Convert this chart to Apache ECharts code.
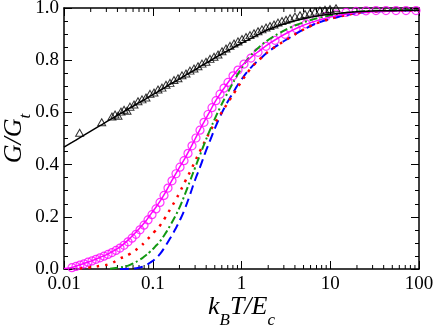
<!DOCTYPE html>
<html>
<head>
<meta charset="utf-8">
<script src="https://cdn.jsdelivr.net/npm/echarts@6/dist/echarts.min.js"></script>
<style>
    html, body { margin: 0; padding: 0; background: #fff; }
    #chart { width: 436px; height: 332px; }
</style>
</head>
<body>
<div id="chart"></div>
<script>
// x grid shared by the model curves
const curveX = [0.01, 0.0123, 0.0151, 0.0196, 0.0254, 0.033, 0.0428, 0.0554, 0.0718, 0.0818,
    0.0931, 0.106, 0.121, 0.137, 0.156, 0.178, 0.203, 0.231, 0.263, 0.299,
    0.341, 0.388, 0.442, 0.503, 0.573, 0.652, 0.742, 0.845, 0.962, 1.25,
    1.62, 2.09, 2.71, 3.52, 4.56, 5.91, 7.67, 9.94, 12.9, 16.7,
    21.6, 36.4, 61.1, 100]

const blackLine = [0.467, 0.485, 0.503, 0.526, 0.549, 0.572, 0.594, 0.617, 0.639, 0.65,
    0.662, 0.673, 0.684, 0.695, 0.707, 0.718, 0.729, 0.741, 0.752, 0.763,
    0.775, 0.786, 0.797, 0.809, 0.82, 0.831, 0.841, 0.852, 0.862, 0.882,
    0.902, 0.92, 0.934, 0.946, 0.956, 0.964, 0.971, 0.976, 0.98, 0.984,
    0.986, 0.989, 0.99, 0.991]

const magentaLine = [0.002, 0.006, 0.016, 0.029, 0.044, 0.062, 0.085, 0.118, 0.158, 0.18,
    0.206, 0.232, 0.26, 0.29, 0.325, 0.36, 0.393, 0.425, 0.46, 0.497,
    0.535, 0.57, 0.605, 0.64, 0.67, 0.698, 0.725, 0.75, 0.772, 0.808,
    0.838, 0.865, 0.889, 0.91, 0.928, 0.943, 0.955, 0.965, 0.973, 0.979,
    0.983, 0.987, 0.989, 0.99]

const redDotted = [null, null, 0.002, 0.006, 0.012, 0.02, 0.04, 0.058, 0.085, 0.104,
    0.124, 0.145, 0.167, 0.195, 0.227, 0.26, 0.296, 0.335, 0.372, 0.412,
    0.452, 0.49, 0.527, 0.56, 0.59, 0.62, 0.65, 0.68, 0.71, 0.765,
    0.805, 0.837, 0.863, 0.887, 0.91, 0.93, 0.946, 0.958, 0.968, 0.976,
    0.982, 0.988, 0.99, 0.99]

const greenDashDot = [null, null, null, null, null, 0.001, 0.006, 0.016, 0.036, 0.05,
    0.066, 0.085, 0.107, 0.133, 0.165, 0.2, 0.24, 0.287, 0.337, 0.387,
    0.437, 0.486, 0.533, 0.577, 0.618, 0.656, 0.692, 0.727, 0.76, 0.815,
    0.853, 0.882, 0.905, 0.925, 0.94, 0.953, 0.963, 0.971, 0.978, 0.983,
    0.987, 0.99, 0.992, 0.992]

const blueDashed = [null, null, null, null, null, null, 0.0, 0.001, 0.006, 0.013,
    0.024, 0.038, 0.058, 0.085, 0.116, 0.15, 0.188, 0.232, 0.285, 0.34,
    0.39, 0.443, 0.492, 0.54, 0.584, 0.622, 0.656, 0.688, 0.718, 0.768,
    0.805, 0.837, 0.863, 0.887, 0.91, 0.93, 0.946, 0.958, 0.968, 0.976,
    0.982, 0.988, 0.99, 0.99]

// measured points (triangles)
const triX = [0.015, 0.0266, 0.0347, 0.0376, 0.0406, 0.0439, 0.0475, 0.0513, 0.0554, 0.0615,
    0.0682, 0.0757, 0.0839, 0.0931, 0.1033, 0.1146, 0.1271, 0.141, 0.1564, 0.1735,
    0.1925, 0.2136, 0.2369, 0.2628, 0.2916, 0.3235, 0.3589, 0.398, 0.4418, 0.49,
    0.5436, 0.6031, 0.669, 0.7422, 0.8234, 0.9134, 1.013, 1.124, 1.247, 1.383,
    1.535, 1.702, 1.889, 2.095, 2.324, 2.578, 2.86, 3.173, 3.52, 4.007,
    4.562, 5.194, 5.913, 6.732, 7.664, 8.726, 9.935, 11.61, 13.57, 15.85,
    18.52, 21.64]
const triY = [0.522, 0.562, 0.584, 0.592, 0.587, 0.603, 0.61, 0.606, 0.622, 0.63,
    0.643, 0.65, 0.657, 0.671, 0.676, 0.688, 0.695, 0.706, 0.713, 0.724,
    0.731, 0.742, 0.749, 0.76, 0.768, 0.777, 0.787, 0.794, 0.805, 0.813,
    0.822, 0.834, 0.845, 0.855, 0.864, 0.872, 0.881, 0.889, 0.896, 0.903,
    0.911, 0.918, 0.925, 0.931, 0.937, 0.944, 0.95, 0.955, 0.961, 0.967,
    0.972, 0.977, 0.982, 0.986, 0.99, 0.993, 0.996, 0.999, 1.001, 1.003,
    1.004, 1.004]

// measured points (circles)
const circX = [0.0123, 0.01365, 0.01514, 0.0168, 0.01864, 0.02068, 0.02294, 0.02545, 0.02823, 0.03132,
    0.03474, 0.03854, 0.04276, 0.04744, 0.05262, 0.05838, 0.06476, 0.07184, 0.0797, 0.08842,
    0.09806, 0.1088, 0.1207, 0.1339, 0.1485, 0.1648, 0.1828, 0.2028, 0.225, 0.2496,
    0.2769, 0.3071, 0.3407, 0.378, 0.4193, 0.4652, 0.516, 0.5725, 0.6351, 0.7045,
    0.8023, 0.9134, 1.067, 1.279, 1.535, 1.889, 2.385, 3.092, 4.113, 5.332,
    6.909, 8.957, 11.61, 15.05, 19.5, 25.28, 32.77, 42.48, 55.06, 71.38,
    92.52]
const circY = [0.005, 0.01, 0.015, 0.02, 0.026, 0.031, 0.037, 0.043, 0.049, 0.056,
    0.063, 0.071, 0.08, 0.091, 0.104, 0.118, 0.133, 0.15, 0.168, 0.188,
    0.208, 0.23, 0.255, 0.282, 0.31, 0.338, 0.365, 0.39, 0.415, 0.443,
    0.472, 0.502, 0.532, 0.562, 0.592, 0.618, 0.645, 0.67, 0.693, 0.715,
    0.74, 0.762, 0.785, 0.808, 0.83, 0.853, 0.876, 0.899, 0.921, 0.939,
    0.955, 0.968, 0.977, 0.983, 0.987, 0.989, 0.99, 0.99, 0.99, 0.99,
    0.99]

const xMinorTicks = [0.02, 0.03, 0.04, 0.05, 0.06, 0.07, 0.08, 0.09,
    0.2, 0.3, 0.4, 0.5, 0.6, 0.7, 0.8, 0.9,
    2, 3, 4, 5, 6, 7, 8, 9,
    20, 30, 40, 50, 60, 70, 80, 90]
const xTickLabels = { 0.01: '0.01', 0.1: '0.1', 1: '1', 10: '10', 100: '100' }

const FONT = 'Liberation Serif'
const pairs = (xs, ys) => xs.map((x, i) => [x, ys[i]]).filter(p => p[1] !== null)
const labelFor = v => xTickLabels[parseFloat(Number(v).toPrecision(6))] || ''

const axisLine = { show: true, onZero: false, lineStyle: { color: '#000', width: 1.5 } }
const majorTick = { show: true, inside: true, length: 8, lineStyle: { color: '#000', width: 1 } }
const minorTick = { show: true, splitNumber: 4, length: 4, lineStyle: { color: '#000', width: 1 } }
// italic title with subscripts pushed down by padding
const titleRich = subDrop => ({
    i: { fontFamily: FONT, fontStyle: 'italic', fontSize: 26, color: '#000', lineHeight: 28, verticalAlign: 'top' },
    s: { fontFamily: FONT, fontStyle: 'italic', fontSize: 17, color: '#000', lineHeight: 18, padding: [subDrop, 0, 0, 0], verticalAlign: 'top' }
})

const chart = echarts.init(document.getElementById('chart'), null, { renderer: 'canvas' })

chart.setOption({
    animation: false,
    backgroundColor: '#fff',
    grid: { left: 64, right: 17, top: 8, bottom: 63, containLabel: false, outerBoundsMode: 'none' },
    xAxis: [
        {
            type: 'log', logBase: 10, min: 0.01, max: 100, position: 'bottom',
            axisLine, axisTick: majorTick,
            axisLabel: { formatter: labelFor, fontFamily: FONT, fontSize: 19, color: '#000', margin: 6 },
            splitLine: { show: false },
            name: '{i|k}{s|B}{i|T/E}{s|c}',
            nameLocation: 'middle',
            nameGap: 25,
            nameMoveOverlap: false,
            nameTextStyle: { rich: titleRich(18) }
        },
        {
            type: 'log', logBase: 10, min: 0.01, max: 100, position: 'top',
            axisLine, axisTick: majorTick,
            axisLabel: { show: false },
            splitLine: { show: false }
        }
    ],
    yAxis: [
        {
            type: 'value', min: 0, max: 1, interval: 0.2, position: 'left',
            axisLine, axisTick: majorTick, minorTick,
            axisLabel: { formatter: v => v.toFixed(1), fontFamily: FONT, fontSize: 19, color: '#000', margin: 5 },
            splitLine: { show: false },
            name: '{i|G/G}{s|t}',
            nameLocation: 'middle',
            nameGap: 35,
            nameMoveOverlap: false,
            nameTextStyle: { rich: titleRich(16) }
        },
        {
            type: 'value', min: 0, max: 1, interval: 0.2, position: 'right',
            axisLine, axisTick: majorTick, minorTick,
            axisLabel: { show: false },
            splitLine: { show: false }
        }
    ],
    series: [
        {
            // log-axis minor ticks at 2..9 of each decade, bottom and top
            type: 'custom',
            silent: true,
            clip: false,
            data: xMinorTicks.map(v => [v, 0]),
            renderItem: (params, api) => {
                const b = api.coord([api.value(0), 0])
                const t = api.coord([api.value(0), 1])
                const st = { stroke: '#000', lineWidth: 1 }
                return {
                    type: 'group',
                    children: [
                        { type: 'line', shape: { x1: b[0], y1: b[1], x2: b[0], y2: b[1] - 4 }, style: st },
                        { type: 'line', shape: { x1: t[0], y1: t[1], x2: t[0], y2: t[1] + 4 }, style: st }
                    ]
                }
            }
        },
        {
            name: 'blue', type: 'line', data: pairs(curveX, blueDashed), smooth: true, symbol: 'none',
            lineStyle: { color: '#0000ff', width: 2, type: [9, 5] }
        },
        {
            name: 'red', type: 'line', data: pairs(curveX, redDotted), smooth: true, symbol: 'none',
            lineStyle: { color: '#ff0000', width: 2.5, type: [2.5, 6] }
        },
        {
            name: 'green', type: 'line', data: pairs(curveX, greenDashDot), smooth: true, symbol: 'none',
            lineStyle: { color: '#119911', width: 2, type: [8, 3, 2, 3] }
        },
        {
            name: 'magenta', type: 'line', data: pairs(curveX, magentaLine), smooth: true, symbol: 'none',
            lineStyle: { color: '#ff00ff', width: 1.5 }
        },
        {
            name: 'circles', type: 'scatter', data: pairs(circX, circY), symbol: 'circle', symbolSize: 8,
            itemStyle: { color: 'rgba(0,0,0,0)', borderColor: '#ff00ff', borderWidth: 1.2 }
        },
        {
            name: 'black', type: 'line', data: pairs(curveX, blackLine), smooth: true, symbol: 'none',
            lineStyle: { color: '#000', width: 1.5 }
        },
        {
            name: 'triangles', type: 'scatter', data: pairs(triX, triY), symbol: 'triangle', symbolSize: [8, 7],
            itemStyle: { color: 'rgba(0,0,0,0)', borderColor: '#000', borderWidth: 1 }
        }
    ]
})
</script>
</body>
</html>
